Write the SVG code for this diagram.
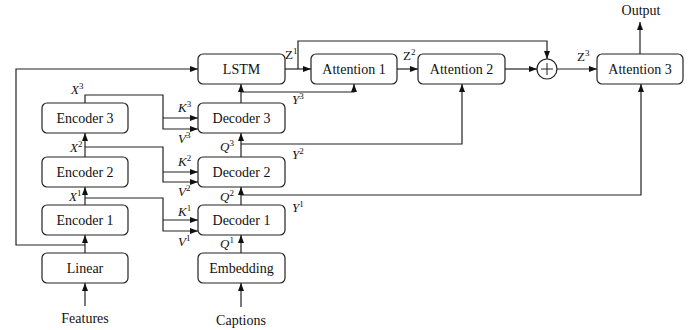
<svg xmlns="http://www.w3.org/2000/svg" width="696" height="330" viewBox="0 0 696 330">
<style>
.box{fill:#fff;stroke:#222;stroke-width:1.2}
.lbl{font-family:"Liberation Serif",serif;font-size:14px;fill:#111;text-anchor:middle;dominant-baseline:central}
.m{font-family:"Liberation Serif",serif;font-size:13px;font-style:italic;fill:#111;text-anchor:start}
.m tspan.s{font-size:9px;font-style:normal}
.u{font-style:normal}
.c{fill:none;stroke:#222;stroke-width:1.2}
</style>
<defs>
<marker id="ah" markerUnits="userSpaceOnUse" markerWidth="8" markerHeight="6" refX="8" refY="3" orient="auto">
<path d="M0,0 L8,3 L0,6 z" fill="#111"/>
</marker>
</defs>
<rect width="696" height="330" fill="#fff"/>
<g id="connectors">
<path class="c" d="M85,306 V283" marker-end="url(#ah)"/>
<path class="c" d="M85,253 V235" marker-end="url(#ah)"/>
<path class="c" d="M85,205 V187" marker-end="url(#ah)"/>
<path class="c" d="M85,157 V133" marker-end="url(#ah)"/>
<path class="c" d="M85,245 H16 V69 H198" marker-end="url(#ah)"/>
<path class="c" d="M85,198 H163 V231 H198" marker-end="url(#ah)"/>
<path class="c" d="M163,220 H198" marker-end="url(#ah)"/>
<path class="c" d="M85,147 H163 V182 H198" marker-end="url(#ah)"/>
<path class="c" d="M163,172 H198" marker-end="url(#ah)"/>
<path class="c" d="M85,103 V95 H163 V129 H198" marker-end="url(#ah)"/>
<path class="c" d="M163,118 H198" marker-end="url(#ah)"/>
<path class="c" d="M241,307 V283" marker-end="url(#ah)"/>
<path class="c" d="M241,253 V235" marker-end="url(#ah)"/>
<path class="c" d="M241,205 V187" marker-end="url(#ah)"/>
<path class="c" d="M241,157 V133" marker-end="url(#ah)"/>
<path class="c" d="M241,103 V84" marker-end="url(#ah)"/>
<path class="c" d="M241,195 H641 V84" marker-end="url(#ah)"/>
<path class="c" d="M241,144 H462 V84" marker-end="url(#ah)"/>
<path class="c" d="M241,92 H354 V84" marker-end="url(#ah)"/>
<path class="c" d="M285,69 H311" marker-end="url(#ah)"/>
<path class="c" d="M298,69 V41 H547 V59" marker-end="url(#ah)"/>
<path class="c" d="M397,69 H418" marker-end="url(#ah)"/>
<path class="c" d="M505,69 H537" marker-end="url(#ah)"/>
<path class="c" d="M557,69 H597" marker-end="url(#ah)"/>
<path class="c" d="M640,54 V22" marker-end="url(#ah)"/>
</g>
<g id="linear"><rect class="box" x="42" y="253" width="86" height="30" rx="5"/><text class="lbl" x="85" y="268">Linear</text></g>
<g id="encoder1"><rect class="box" x="42" y="205" width="86" height="30" rx="5"/><text class="lbl" x="85" y="220">Encoder 1</text></g>
<g id="encoder2"><rect class="box" x="42" y="157" width="86" height="30" rx="5"/><text class="lbl" x="85" y="172">Encoder 2</text></g>
<g id="encoder3"><rect class="box" x="42" y="103" width="86" height="30" rx="5"/><text class="lbl" x="85" y="118">Encoder 3</text></g>
<g id="embedding"><rect class="box" x="198" y="253" width="87" height="30" rx="5"/><text class="lbl" x="241.5" y="268">Embedding</text></g>
<g id="decoder1"><rect class="box" x="198" y="205" width="87" height="30" rx="5"/><text class="lbl" x="241.5" y="220">Decoder 1</text></g>
<g id="decoder2"><rect class="box" x="198" y="157" width="87" height="30" rx="5"/><text class="lbl" x="241.5" y="172">Decoder 2</text></g>
<g id="decoder3"><rect class="box" x="198" y="103" width="87" height="30" rx="5"/><text class="lbl" x="241.5" y="118">Decoder 3</text></g>
<g id="lstm"><rect class="box" x="198" y="54" width="87" height="30" rx="5"/><text class="lbl" x="241.5" y="69">LSTM</text></g>
<g id="attention1"><rect class="box" x="311" y="54" width="86" height="30" rx="5"/><text class="lbl" x="354" y="69">Attention 1</text></g>
<g id="attention2"><rect class="box" x="418" y="54" width="87" height="30" rx="5"/><text class="lbl" x="461.5" y="69">Attention 2</text></g>
<g id="attention3"><rect class="box" x="597" y="54" width="86" height="30" rx="5"/><text class="lbl" x="640" y="69">Attention 3</text></g>
<g id="sum"><circle cx="547" cy="69" r="10" class="box"/><path d="M541,69 H553 M547,63 V75" stroke="#222" stroke-width="1"/></g>
<g id="io">
<text class="lbl" x="85" y="318">Features</text>
<text class="lbl" x="241" y="320">Captions</text>
<text class="lbl" x="641" y="10">Output</text>
</g>
<g id="labels">
<text class="m" x="71" y="94">X<tspan class="s" dy="-5">3</tspan></text>
<text class="m" x="70" y="152">X<tspan class="s" dy="-5">2</tspan></text>
<text class="m" x="69" y="201">X<tspan class="s" dy="-5">1</tspan></text>
<text class="m" x="178" y="112">K<tspan class="s" dy="-5">3</tspan></text>
<text class="m" x="178" y="143">V<tspan class="s" dy="-5">3</tspan></text>
<text class="m" x="178" y="166">K<tspan class="s" dy="-5">2</tspan></text>
<text class="m" x="178" y="196">V<tspan class="s" dy="-5">2</tspan></text>
<text class="m" x="178" y="216">K<tspan class="s" dy="-5">1</tspan></text>
<text class="m" x="178" y="246">V<tspan class="s" dy="-5">1</tspan></text>
<text class="m" x="220" y="151">Q<tspan class="s" dy="-5">3</tspan></text>
<text class="m" x="220" y="201">Q<tspan class="s" dy="-5">2</tspan></text>
<text class="m" x="220" y="248">Q<tspan class="s" dy="-5">1</tspan></text>
<text class="m" x="292" y="104">Y<tspan class="s" dy="-5">3</tspan></text>
<text class="m" x="292" y="159">Y<tspan class="s" dy="-5">2</tspan></text>
<text class="m" x="292" y="212">Y<tspan class="s" dy="-5">1</tspan></text>
<text class="m u" x="285" y="59">Z<tspan class="s" dy="-5">1</tspan></text>
<text class="m u" x="403" y="60">Z<tspan class="s" dy="-5">2</tspan></text>
<text class="m u" x="577" y="61">Z<tspan class="s" dy="-5">3</tspan></text>
</g>
</svg>
